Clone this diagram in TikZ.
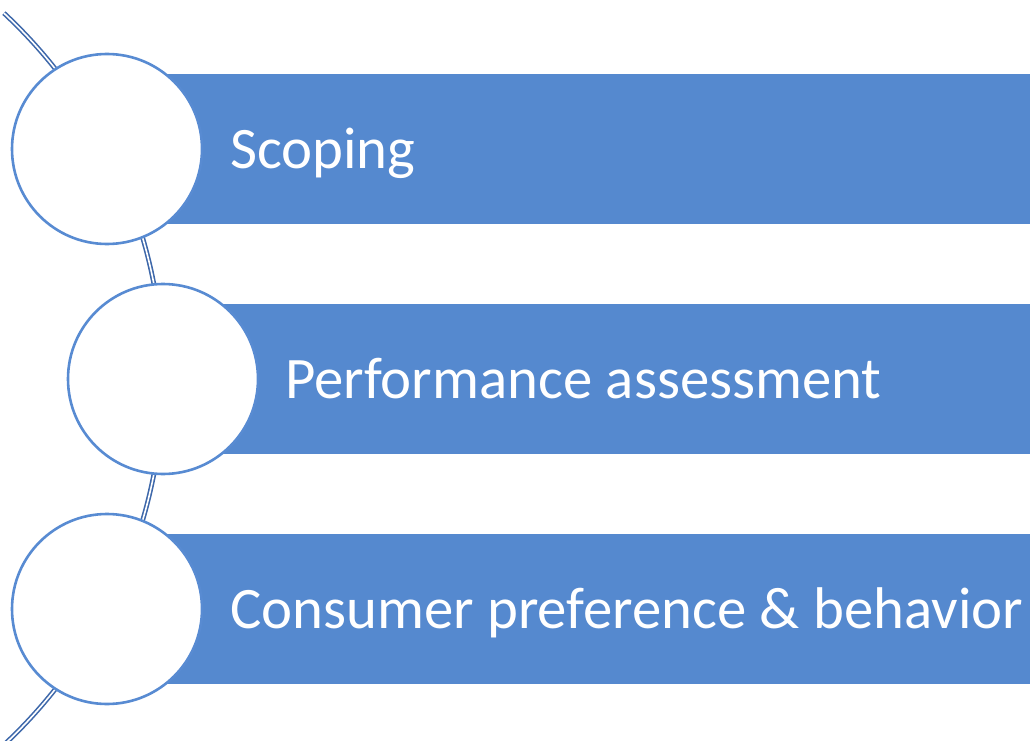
\documentclass[tikz,border=0pt]{standalone}
\usepackage{fontspec}
\setmainfont{Carlito}
\definecolor{barblue}{RGB}{85,137,207}
\definecolor{ringblue}{RGB}{88,139,210}
\definecolor{spineblue}{RGB}{62,104,170}
\tikzset{
  bar/.style={fill=barblue, draw=none},
  ring/.style={circle, draw=ringblue, line width=2.6pt, fill=white, minimum size=190pt, inner sep=0pt},
  label/.style={anchor=base west, text=white, font=\fontsize{58.8}{64}\selectfont, inner sep=0pt},
  spine/.style={draw=spineblue, line width=1.6pt, double=white, double distance=1.6pt}
}
\begin{document}
\begin{tikzpicture}[x=1pt,y=-1pt]
  \useasboundingbox (0,0) rectangle (1030,741);
  \begin{scope}
    \clip (0,0) rectangle (1030,741);
    % curved spine through the three ring centres
    \coordinate (hub) at (-337.3,379);
    \draw[spine] ([shift={(-47:500.3)}]hub) arc[start angle=-47, end angle=47, radius=500.3];
    % coloured bars
    \fill[bar] (107,74) rectangle (1030,224);
    \fill[bar] (163,304) rectangle (1030,454);
    \fill[bar] (107,534) rectangle (1030,684);
    % rings
    \node[ring] (r1) at (107,149) {};
    \node[ring] (r2) at (163,379) {};
    \node[ring] (r3) at (107,609) {};
    % labels
    \node[label] (t1) at (230,168) {Scoping};
    \node[label] (t2) at (285,398) {Performance assessment};
    \node[label] (t3) at (230,628) {Consumer preference \& behavior};
  \end{scope}
\end{tikzpicture}
\end{document}
